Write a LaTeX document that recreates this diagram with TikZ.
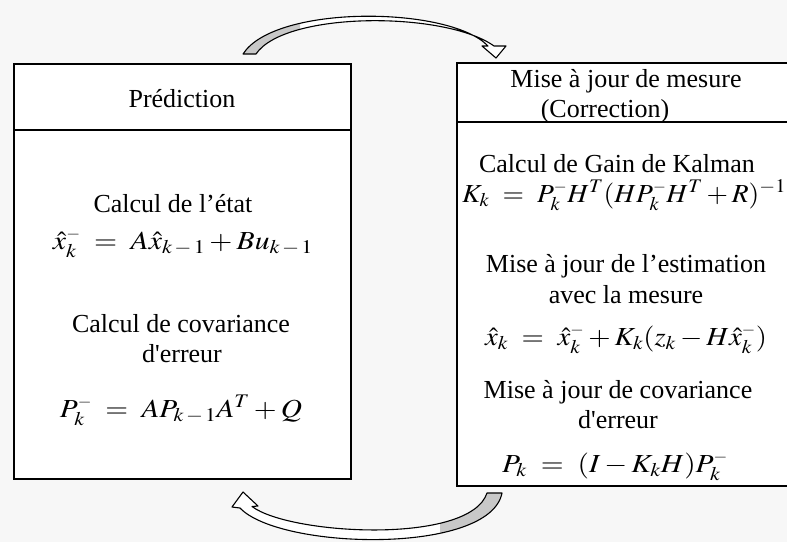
\documentclass[tikz,border=0pt]{standalone}
\usepackage{graphicx}
\usepackage{mathptmx}
\usepackage[no-math]{fontspec}
\setmainfont{Liberation Serif}
\newfontfamily\plainserif{Liberation Serif}
\definecolor{bgcol}{HTML}{F7F7F7}
\definecolor{tailgray}{HTML}{C8C8C8}
\tikzset{
  box/.style={draw=black, line width=1.5pt, fill=white, inner sep=0pt},
  divider/.style={draw=black, line width=1.5pt},
  txt/.style={font=\plainserif\fontsize{26}{32}\selectfont, anchor=base, inner sep=0pt},
  bandline/.style={draw=black, line width=1.1pt, line join=round},
}
\newcommand\toparrowpath{(243,54) .. controls (275,4) and (450,6) .. (488,46) -- (482,46) -- (496,58) -- (506,46) -- (494,46) .. controls (445,11) and (285,11) .. (256,54) -- cycle}
\newcommand\botarrowpath{(502,493) .. controls (490,555) and (280,550) .. (240,508) -- (232,507) -- (243,492) -- (258,506) -- (252,506.5) .. controls (290,535) and (470,545) .. (487,493) -- cycle}
\newcommand\km{k\hspace{2pt}-\hspace{2pt}1}
\newcommand\mn{{\scriptscriptstyle -}}
\begin{document}
\begin{tikzpicture}[x=1pt,y=-1pt]
\fill[bgcol] (0,0) rectangle (787,542);
\useasboundingbox (0,0) rectangle (787,542);

% boxes
\node[box, minimum width=337pt, minimum height=415pt] (pred) at (182.5,271.5) {};
\coordinate (pdiv) at (0,130);
\draw[divider] (pred.west |- pdiv) -- (pred.east |- pdiv);

\node[box, minimum width=345pt, minimum height=423pt] (corr) at (629.5,274.5) {};
\coordinate (cdiv) at (0,122);
\draw[divider] (corr.west |- cdiv) -- (corr.east |- cdiv);

% left texts
\node[txt] (t1) at (182,107) {Prédiction};
\node[txt] (t2) at (173,212) {Calcul de l’état};
\node[txt] (f1) at (183,249) {\resizebox{260pt}{\height}{$\hat{x}_k^{\mn}\hspace{6pt}=\hspace{6pt}A\hat{x}_{\km}+Bu_{\km}$}};
\node[txt] (t3) at (181,332) {Calcul de covariance};
\node[txt] (t4) at (182,362) {d'erreur};
\node[txt] (f2) at (181,417) {\resizebox{242pt}{\height}{$P_k^{\mn}\hspace{6pt}=\hspace{6pt}AP_{\km}A^T+Q$}};

% right texts
\node[txt] (r1) at (626,87) {Mise à jour de mesure};
\node[txt] (r2) at (605,117) {(Correction)};
\node[txt] (r3) at (617,172) {Calcul de Gain de Kalman};
\node[txt] (g1) at (624,202) {\resizebox{324pt}{\height}{$K_k\ =\ P_k^{\mn}H^T(HP_k^{\mn}H^T+R)^{-1}$}};
\node[txt] (r4) at (626,272) {Mise à jour de l’estimation};
\node[txt] (r5) at (626,303) {avec la mesure};
\node[txt] (g2) at (626,345) {\resizebox{282pt}{\height}{$\hat{x}_k\ =\ \hat{x}_k^{\mn}+K_k(z_k-H\hat{x}_k^{\mn})$}};
\node[txt] (r6) at (618,398) {Mise à jour de covariance};
\node[txt] (r7) at (618,428) {d'erreur};
\node[txt] (g3) at (615,472) {\resizebox{226pt}{\height}{$P_k\ =\ (I-K_kH)P_k^{\mn}$}};

% curved arrows
\fill[white] \toparrowpath;
\begin{scope}
  \clip (0,0) rectangle (300,60);
  \fill[tailgray] \toparrowpath;
\end{scope}
\draw[bandline] \toparrowpath;

\fill[white] \botarrowpath;
\begin{scope}
  \clip (440,486) rectangle (787,542);
  \fill[tailgray] \botarrowpath;
\end{scope}
\draw[bandline] \botarrowpath;
\end{tikzpicture}
\end{document}
